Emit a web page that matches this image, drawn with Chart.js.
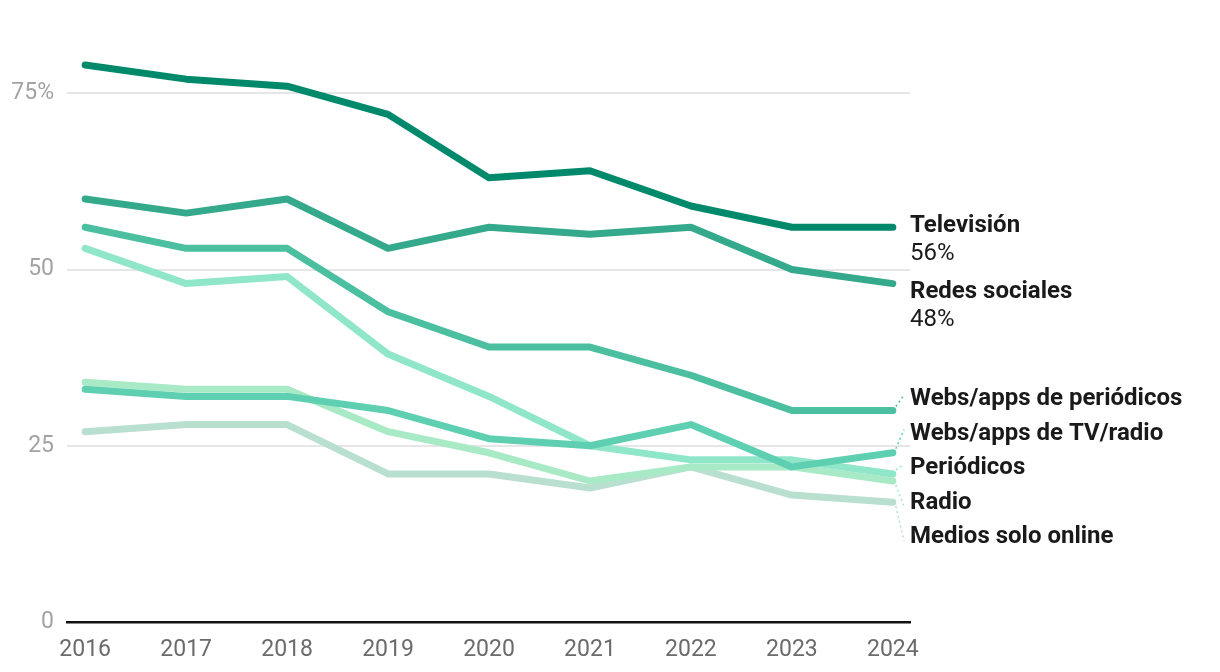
<!DOCTYPE html>
<html>
<head>
<meta charset="utf-8">
<script src="https://cdn.jsdelivr.net/npm/chart.js@4.4.1/dist/chart.umd.min.js"></script>
<style>
    html, body { margin: 0; padding: 0; background: #fff; }
    #wrap { width: 1220px; height: 672px; position: relative; }
</style>
</head>
<body>
<div id="wrap"><canvas id="graphic-medios"></canvas></div>
<script>
// Datos (% que usa cada medio para informarse)
const years = [2016, 2017, 2018, 2019, 2020, 2021, 2022, 2023, 2024];
const yTicks = [0, 25, 50, 75];

const television = [79, 77, 76, 72, 63, 64, 59, 56, 56];
const redesSociales = [60, 58, 60, 53, 56, 55, 56, 50, 48];
const websPeriodicos = [56, 53, 53, 44, 39, 39, 35, 30, 30];
const websTvRadio = [33, 32, 32, 30, 26, 25, 28, 22, 24];
const periodicos = [53, 48, 49, 38, 32, 25, 23, 23, 21];
const radio = [34, 33, 33, 27, 24, 20, 22, 22, 20];
const mediosOnline = [27, 28, 28, 21, 21, 19, 22, 18, 17];

const series = [
    { label: 'Televisión', data: television, color: '#00896b', showValue: true },
    { label: 'Redes sociales', data: redesSociales, color: '#34a98b', showValue: true },
    { label: 'Webs/apps de periódicos', data: websPeriodicos, color: '#4bbf9f' },
    { label: 'Webs/apps de TV/radio', data: websTvRadio, color: '#5fcfb2' },
    { label: 'Periódicos', data: periodicos, color: '#8fe6c8' },
    { label: 'Radio', data: radio, color: '#a8e9c6' },
    { label: 'Medios solo online', data: mediosOnline, color: '#b9dfd0' }
];

const FONT = 'Roboto, "Noto Sans", sans-serif';

// Etiquetas al final de cada línea
const endLabels = {
    id: 'endLabels',
    afterDatasetsDraw(chart) {
        const ctx = chart.ctx;
        const lineH = 34.5;
        const items = chart.data.datasets.map((ds, i) => {
            const meta = chart.getDatasetMeta(i);
            const last = meta.data[meta.data.length - 1];
            const h = ds.showValue ? 66 : lineH;
            return { ds: ds, px: last.x, py: last.y, want: last.y, h: h };
        }).sort((a, b) => a.want - b.want);

        // evitar solapes: agrupar y centrar
        let groups = items.map(it => ({ list: [it], pos: it.want }));
        let merged = true;
        while (merged) {
            merged = false;
            for (let i = 0; i < groups.length - 1; i++) {
                const g = groups[i], n = groups[i + 1];
                const gH = g.list.reduce((s, it) => s + it.h, 0);
                if (g.pos + gH - lineH / 2 > n.pos - lineH / 2) {
                    const list = g.list.concat(n.list);
                    let off = 0, sum = 0;
                    list.forEach(it => { sum += it.want - off; off += it.h; });
                    groups.splice(i, 2, { list: list, pos: sum / list.length });
                    merged = true;
                    break;
                }
            }
        }
        groups.forEach(g => {
            let y = g.pos + 4;
            g.list.forEach(it => { it.ly = y; y += it.h; });
        });

        const tx = chart.chartArea.right;
        ctx.save();
        items.forEach(it => {
            if (!it.ds.showValue) {
                ctx.beginPath();
                ctx.setLineDash([2, 3]);
                ctx.lineWidth = 1.5;
                ctx.strokeStyle = it.ds.borderColor;
                ctx.moveTo(it.px + 3, it.py + (it.ly < it.py ? -4 : 4));
                ctx.lineTo(tx - 6, it.ly - (it.ly < it.py ? 4 : -4));
                ctx.stroke();
                ctx.setLineDash([]);
            }
            ctx.fillStyle = '#1a1a1a';
            ctx.textBaseline = 'middle';
            ctx.textAlign = 'left';
            ctx.font = 'bold 24px ' + FONT;
            ctx.fillText(it.ds.label, tx, it.ly);
            if (it.ds.showValue) {
                ctx.font = '24px ' + FONT;
                const v = it.ds.data[it.ds.data.length - 1].y;
                ctx.fillText(v + '%', tx, it.ly + 28);
            }
        });
        ctx.restore();
    }
};

const chartMedios = new Chart(document.getElementById('graphic-medios'), {
    type: 'line',
    data: {
        datasets: series.map(s => ({
            label: s.label,
            data: s.data.map((v, i) => ({ x: years[i], y: v })),
            borderColor: s.color,
            backgroundColor: s.color,
            borderWidth: 7,
            borderCapStyle: 'round',
            borderJoinStyle: 'round',
            pointRadius: 0,
            tension: 0,
            clip: false,
            showValue: !!s.showValue
        }))
    },
    options: {
        responsive: true,
        maintainAspectRatio: false,
        animation: false,
        layout: { padding: { top: 58, right: 310, bottom: 0, left: 0 } },
        scales: {
            x: {
                type: 'linear',
                min: years[0] - 0.18,
                max: years[years.length - 1] + 0.17,
                afterBuildTicks: (scale) => { scale.ticks = years.map(y => ({ value: y })); },
                afterFit: (scale) => { scale.height = 50; },
                grid: { display: false, drawTicks: false },
                border: { color: '#111', width: 2.5 },
                ticks: {
                    padding: 14,
                    color: '#6b6b6b',
                    font: { family: FONT, size: 23 },
                    maxRotation: 0,
                    autoSkip: false,
                    callback: (v) => String(v)
                }
            },
            y: {
                min: 0,
                max: 80,
                afterBuildTicks: (scale) => { scale.ticks = yTicks.map(v => ({ value: v })); },
                afterFit: (scale) => { scale.width = 67; },
                grid: {
                    drawTicks: false,
                    lineWidth: 2,
                    color: (c) => c.tick && c.tick.value === 0 ? 'rgba(0,0,0,0)' : '#e6e6e6'
                },
                border: { display: false },
                ticks: {
                    padding: 13,
                    color: '#a3a3a3',
                    font: { family: FONT, size: 23 },
                    callback: (v) => v === 75 ? '75%' : String(v)
                }
            }
        },
        plugins: {
            legend: { display: false },
            tooltip: { enabled: false }
        }
    },
    plugins: [endLabels]
});
</script>
</body>
</html>
